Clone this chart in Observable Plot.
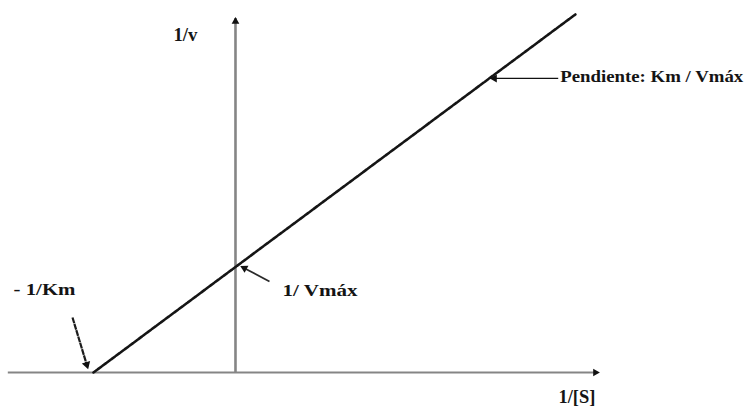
<!DOCTYPE html>
<html>
<head>
<meta charset="utf-8">
<script src="https://cdn.jsdelivr.net/npm/d3@7"></script>
<script src="https://cdn.jsdelivr.net/npm/@observablehq/plot@0.6"></script>
<style>
  body { margin: 0; background: #fff; }
  #chart svg text { font-family: "Liberation Serif", "Times New Roman", Times, serif !important; }
</style>
</head>
<body>
<div id="chart"></div>
<script>
// Lineweaver–Burk (double reciprocal) plot: 1/v = (Km / Vmáx)·(1/[S]) + 1/Vmáx
const km = 1;
const vmax = 1;
const invSEnd = 2.394;            // last 1/[S] value drawn on the line
const invSAxis = [-1.6, 2.57];    // extent of the 1/[S] axis
const invVAxis = [0, 3.375];      // extent of the 1/v axis

// label texts
const axisLabels = ["1/v", "1/[S]"];
const calloutLabels = ["Pendiente: Km / Vmáx", "1/ Vmáx", "- 1/Km"];

// the straight line, through the x-intercept -1/Km and up to invSEnd
const slope = km / vmax;
const linePts = [[-1 / km, 0], [invSEnd, slope * invSEnd + 1 / vmax]];

const W = 744, H = 407;
const xScale = Plot.scale({x: {domain: [-1.655, 3.585], range: [0, W]}});
const yScale = Plot.scale({y: {domain: [-0.3318, 3.526], range: [H, 0]}});
const toPx = ([a, b]) => [xScale.apply(a), yScale.apply(b)];
const toData = ([a, b]) => [xScale.invert(a), yScale.invert(b)];
const shift = (p, [dx, dy]) => toData([toPx(p)[0] + dx, toPx(p)[1] + dy]);

// point on the line used by the slope callout
const slopeAt = 1.787;

// callouts: anchor point, pixel offsets for tip, tail and text
const callouts = [
  {text: calloutLabels[0], point: [slopeAt, slope * slopeAt + 1 / vmax],
   tip: [0, 0], tail: [69, 0], label: [2, -1.5], size: 17,
   stroke: "#111", width: 1.2, dash: null, r: 3.4},
  {text: calloutLabels[1], point: [0, 1 / vmax],
   tip: [4, -1.5], tail: [34, 14.5], label: [13, 9], size: 17,
   stroke: "#2a2a2a", width: 1.7, dash: null, r: 3.6},
  {text: calloutLabels[2], point: [-1 / km, 0],
   tip: [-5, -2], tail: [-21, -55], label: [-59, -28], size: 17,
   stroke: "#1c1c1c", width: 2.2, dash: "6 0.6", r: 4}
];

// set width of each label (the lettering is drawn wide)
const labelWidth = {
  "Pendiente: Km / Vmáx": 183, "1/ Vmáx": 75, "- 1/Km": 62, "1/v": 24, "1/[S]": 37
};

// arrowhead as a rotated filled triangle whose tip sits on the target
function head(tailPx, tipPx, r) {
  const dx = tipPx[0] - tailPx[0], dy = tipPx[1] - tailPx[1];
  const len = Math.hypot(dx, dy);
  const ux = dx / len, uy = dy / len;
  const size = Math.PI * r * r;
  const tipDist = 2 * Math.sqrt(size / (3 * Math.sqrt(3)));
  const c = toData([tipPx[0] - ux * tipDist, tipPx[1] - uy * tipDist]);
  return {x: c[0], y: c[1], rotate: Math.atan2(ux, -uy) * 180 / Math.PI, r};
}

const arrows = callouts.map(c => {
  const tip = shift(c.point, c.tip);
  const tail = shift(c.point, c.tail);
  return {...c, tipD: tip, tailD: tail, textD: shift(tail, c.label),
          head: head(toPx(tail), toPx(tip), c.r)};
});

// axis arrowheads
const xEnd = [invSAxis[1], 0];
const yEnd = [0, invVAxis[1]];
const axisHeads = [
  head(toPx([invSAxis[1] - 0.1, 0]), toPx(xEnd), 3.2),
  head(toPx([0, invVAxis[1] - 0.1]), toPx(yEnd), 3.2)
];

const font = "Liberation Serif";

const marks = [
  // axes
  Plot.ruleY([0], {x1: invSAxis[0], x2: invSAxis[1] - 0.02, stroke: "#858585", strokeWidth: 2.2}),
  Plot.ruleX([0], {y1: 0, y2: invVAxis[1] - 0.02, stroke: "#858585", strokeWidth: 2.6}),
  Plot.dot(axisHeads, {x: "x", y: "y", r: "r", rotate: "rotate", symbol: "triangle", fill: "#111", stroke: "none"}),
  // the double reciprocal line
  Plot.line(linePts, {x: d => d[0], y: d => d[1], stroke: "#151515", strokeWidth: 2.6, strokeDasharray: "4.5 1.1"}),
  // axis labels
  Plot.text([axisLabels[0]], {x: yEnd[0], y: yEnd[1], dx: -62, dy: 19, text: d => d, textAnchor: "start",
    fontFamily: font, fontWeight: "bold", fontSize: 18, fill: "#141414"}),
  Plot.text([axisLabels[1]], {x: xEnd[0], y: xEnd[1], dx: -42, dy: 25, text: d => d, textAnchor: "start",
    fontFamily: font, fontWeight: "bold", fontSize: 18, fill: "#141414"})
];

for (const a of arrows) {
  marks.push(
    Plot.link([a], {x1: d => d.tailD[0], y1: d => d.tailD[1], x2: d => d.head.x, y2: d => d.head.y,
      stroke: a.stroke, strokeWidth: a.width, strokeDasharray: a.dash ?? undefined}),
    Plot.dot([a.head], {x: "x", y: "y", r: "r", rotate: "rotate", symbol: "triangle", fill: "#111", stroke: "none"}),
    Plot.text([a], {x: d => d.textD[0], y: d => d.textD[1], text: "text", textAnchor: "start",
      fontFamily: font, fontWeight: "bold", fontSize: a.size, fill: "#141414"})
  );
}

const chart = Plot.plot({
  width: W,
  height: H,
  margin: 0,
  x: {domain: xScale.domain, range: [0, W], axis: null},
  y: {domain: yScale.domain, range: [H, 0], axis: null},
  style: {background: "#fff", overflow: "visible"},
  marks
});

document.getElementById("chart").appendChild(chart);

d3.select(chart).selectAll("text").each(function () {
  const w = labelWidth[this.textContent];
  if (w) {
    this.setAttribute("textLength", w);
    this.setAttribute("lengthAdjust", "spacingAndGlyphs");
  }
});
</script>
</body>
</html>
